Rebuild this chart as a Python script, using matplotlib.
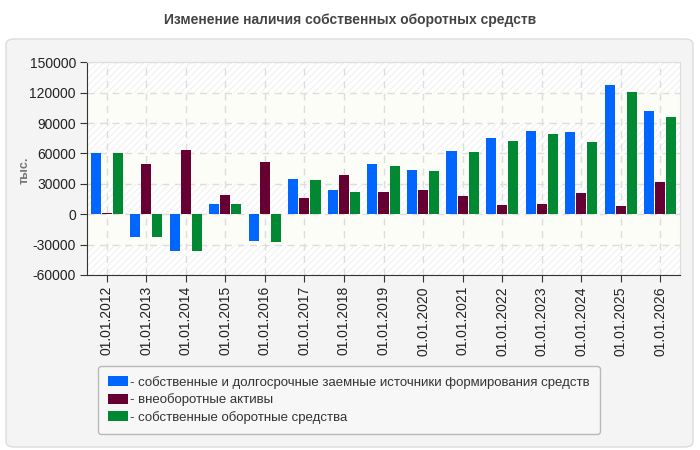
import matplotlib.pyplot as plt
import matplotlib
from matplotlib.patches import FancyBboxPatch
import numpy as np

matplotlib.rcParams['axes.unicode_minus'] = False
matplotlib.rcParams['font.family'] = ['Liberation Sans', 'DejaVu Sans']
matplotlib.rcParams['hatch.linewidth'] = 0.6

# данные
dates = ['01.01.2012', '01.01.2013', '01.01.2014', '01.01.2015', '01.01.2016',
         '01.01.2017', '01.01.2018', '01.01.2019', '01.01.2020', '01.01.2021',
         '01.01.2022', '01.01.2023', '01.01.2024', '01.01.2025', '01.01.2026']
sources = [60000, -22000, -36000, 10000, -26000, 35000, 24000, 49600, 43700,
           62500, 75300, 82200, 81200, 127600, 102000]
noncurrent = [1500, 50000, 63000, 19000, 52000, 16000, 38500, 22000, 24000,
              18000, 9000, 10000, 21000, 8000, 32000]
working = [60000, -22000, -36000, 10000, -27000, 34000, 22000, 47600, 42700,
           61500, 72300, 79200, 71300, 120700, 96000]
labels = ['- собственные и долгосрочные заемные источники формирования средств',
          '- внеоборотные активы',
          '- собственные оборотные средства']
colors = ['#0066ff', '#660033', '#008833']
yticks = [-60000, -30000, 0, 30000, 60000, 90000, 120000, 150000]

fig = plt.figure(figsize=(7, 4.5), dpi=100)
fig.patch.set_facecolor('white')

# серая панель
panel = FancyBboxPatch((6 / 700, 3 / 450), 687 / 700, 408 / 450,
                       boxstyle='round,pad=0,rounding_size=0.012',
                       transform=fig.transFigure, facecolor='#f4f4f4',
                       edgecolor='#dcdcdc', linewidth=1, zorder=-5)
fig.patches.append(panel)

fig.text(0.5, 1 - 20 / 450, 'Изменение наличия собственных оборотных средств',
         ha='center', va='center', fontsize=10, fontweight='bold', color='#444444')

ax = fig.add_axes([87 / 700, 1 - 275 / 450, 593 / 700, 212.7 / 450])
ax.set_facecolor('white')

# полосы фона
for i in range(len(yticks) - 1):
    lo, hi = yticks[i], yticks[i + 1]
    if i % 2 == 0:
        ax.axhspan(lo, hi, facecolor='white', edgecolor='#ececec', hatch='/////',
                   linewidth=0, zorder=0)
    else:
        ax.axhspan(lo, hi, facecolor='#fdfdf7', edgecolor='none', linewidth=0, zorder=0)

x = np.arange(len(dates))
w = 0.255
off = 0.28
series = [sources, noncurrent, working]
for k, vals in enumerate(series):
    ax.bar(x + (k - 1) * off, vals, width=w, color=colors[k], label=labels[k], zorder=3)

ax.set_xlim(-0.5, len(dates) - 0.5)
ax.set_ylim(-60000, 150000)
ax.set_yticks(yticks)
ax.set_yticklabels([str(v) for v in yticks], fontsize=10, color='#222222')
ax.set_xticks(x)
ax.set_xticklabels(dates, rotation=90, fontsize=10, color='#222222')
ax.grid(True, color='#dddddd', linestyle=(0, (5, 4)), linewidth=1, zorder=1)
ax.set_axisbelow(True)

for s in ['top', 'right']:
    ax.spines[s].set_color('#dddddd')
for s in ['left', 'bottom']:
    ax.spines[s].set_color('#333333')
ax.tick_params(axis='both', length=5, color='#333333', pad=3)

fig.text(25 / 700, 1 - 170 / 450, 'тыс.', rotation=90, ha='center', va='center',
         fontsize=9, fontweight='bold', color='#777777')

leg = fig.legend(loc='upper left', bbox_to_anchor=(98 / 700, 1 - 366 / 450),
                 borderaxespad=0, fontsize=9.5, frameon=True, fancybox=True,
                 handlelength=1.5, handleheight=0.8, handletextpad=0.2,
                 labelspacing=0.35, borderpad=0.75, labelcolor='#333333')
leg.get_frame().set_facecolor('#f8f8f8')
leg.get_frame().set_edgecolor('#aaaaaa')

fig.savefig('out.png', dpi=100, facecolor=fig.get_facecolor())
